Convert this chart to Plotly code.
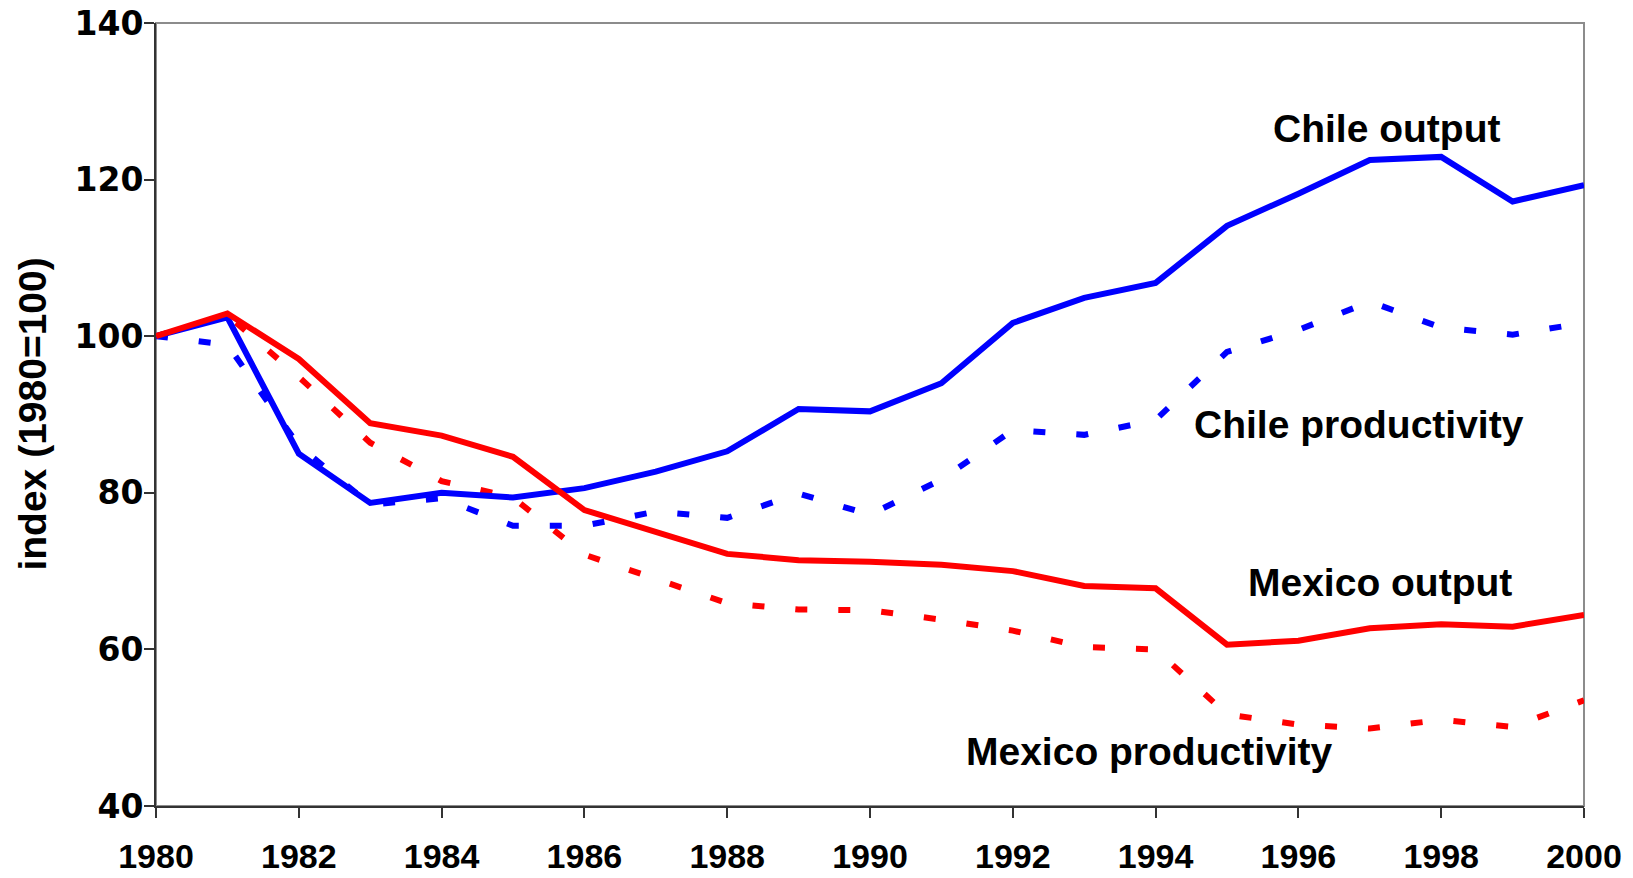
import plotly.graph_objects as go

years = list(range(1980, 2001))
chile_output = [100, 102.4, 85.0, 78.7, 80.0, 79.4, 80.6, 82.7, 85.3, 90.7, 90.4,
                94.0, 101.7, 104.9, 106.8, 114.1, 118.2, 122.5, 122.9, 117.2, 119.3]
chile_productivity = [100, 98.9, 86.0, 78.5, 79.3, 75.8, 75.8, 77.6, 76.8, 79.9, 77.2,
                      81.7, 88.0, 87.4, 89.3, 98.0, 100.8, 104.4, 101.1, 100.2, 101.7]
mexico_output = [100, 102.9, 97.1, 88.9, 87.3, 84.6, 77.8, 75.0, 72.2, 71.4, 71.2,
                 70.8, 70.0, 68.1, 67.8, 60.6, 61.1, 62.7, 63.2, 62.9, 64.4]
mexico_productivity = [100, 102.7, 94.8, 86.4, 81.5, 79.4, 72.1, 69.1, 65.9, 65.1, 65.0,
                       63.8, 62.4, 60.3, 60.0, 51.7, 50.4, 49.9, 51.0, 50.1, 53.5]

labels = ["Chile output", "Chile productivity", "Mexico output", "Mexico productivity"]
label_x = [1997.24, 1996.85, 1997.14, 1993.92]
label_y = [126.5, 88.7, 68.5, 46.9]

x_ticks = list(range(1980, 2001, 2))
y_ticks = [40, 60, 80, 100, 120, 140]

FONT = "Liberation Sans, Arial, sans-serif"
BLUE = "#0000FF"
RED = "#FF0000"
DASH = "12px,31px"

fig = go.Figure()
fig.add_trace(go.Scatter(x=years, y=mexico_productivity, mode="lines",
                         line=dict(color=RED, width=6, dash=DASH)))
fig.add_trace(go.Scatter(x=years, y=chile_productivity, mode="lines",
                         line=dict(color=BLUE, width=6, dash=DASH)))
fig.add_trace(go.Scatter(x=years, y=chile_output, mode="lines",
                         line=dict(color=BLUE, width=6)))
fig.add_trace(go.Scatter(x=years, y=mexico_output, mode="lines",
                         line=dict(color=RED, width=6)))

for t, x, y in zip(labels, label_x, label_y):
    fig.add_annotation(x=x, y=y, text=t, showarrow=False, xanchor="center", yanchor="middle",
                       font=dict(family=FONT, size=39, color="black", weight="bold"))

fig.add_annotation(xref="paper", yref="paper", x=-0.0868, y=0.5, text="index (1980=100)",
                   textangle=-90, showarrow=False, xanchor="center", yanchor="middle",
                   font=dict(family=FONT, size=39, color="black", weight="bold"))

fig.add_shape(type="rect", xref="paper", yref="paper", x0=0, y0=0, x1=1, y1=1,
              line=dict(color="#8c8c8c", width=2), layer="below")

fig.update_layout(
    width=1633, height=878,
    margin=dict(l=148, r=57, t=15, b=80),
    paper_bgcolor="white", plot_bgcolor="white",
    showlegend=False,
    xaxis=dict(range=[1980, 2000], tickvals=x_ticks, ticktext=[str(v) for v in x_ticks],
               automargin=False, ticklabeloverflow="allow",
               showgrid=False, zeroline=False, showline=True, linecolor="#333333", linewidth=2,
               ticks="outside", ticklen=10, tickwidth=1.5, tickcolor="#333333",
               ticklabelstandoff=9,
               tickfont=dict(family=FONT, size=34, color="black", weight="bold")),
    yaxis=dict(range=[40, 140], tickvals=y_ticks, automargin=False,
               ticklabeloverflow="allow", ticklabelstandoff=-6,
               showgrid=False, zeroline=False, showline=True, linecolor="#333333", linewidth=2,
               ticks="outside", ticklen=10, tickwidth=1.5, tickcolor="#333333",
               tickfont=dict(family="DejaVu Sans, sans-serif", size=33, color="black",
                             weight="bold")),
)

fig.write_html("out.html")
